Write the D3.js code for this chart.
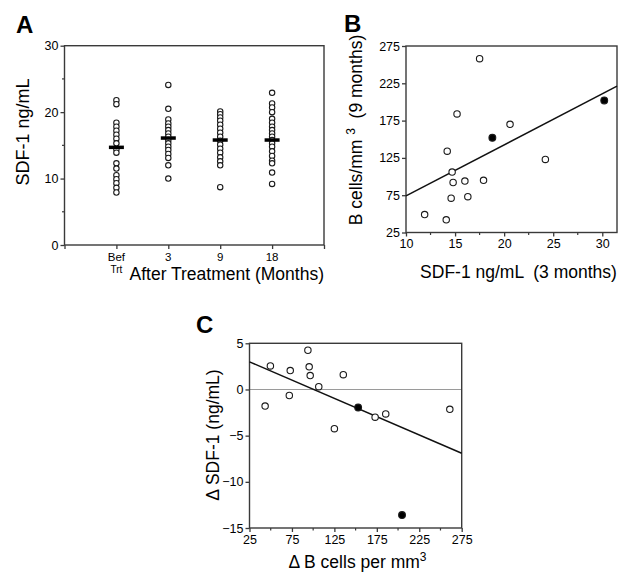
<!DOCTYPE html>
<html>
<head>
<meta charset="utf-8">
<script src="https://cdn.jsdelivr.net/npm/d3@7"></script>
<style>
  body { margin: 0; background: #fff; }
  text { font-family: "Liberation Sans", Arial, Helvetica, sans-serif; fill: #000; }
</style>
</head>
<body>
<div id="fig"></div>
<script>
// ---- panel A: SDF-1 by time point
var catLabels = [['Bef', 'Trt'], ['3'], ['9'], ['18']];
var befTrt = [21.8, 21.2, 18.4, 17.8, 17.2, 16.6, 16.0, 15.3, 14.4, 13.9, 12.3, 11.5, 10.5, 9.9, 9.3, 8.6, 7.9];
var month3 = [24.1, 20.5, 18.9, 18.3, 17.8, 17.3, 16.8, 16.3, 15.8, 15.3, 14.8, 14.3, 13.7, 13.1, 12.0, 10.0];
var month9 = [20.1, 19.7, 19.2, 18.7, 18.1, 17.5, 16.9, 16.3, 15.7, 15.1, 14.5, 13.9, 13.2, 12.6, 12.0, 8.7];
var month18 = [22.9, 21.3, 20.7, 20.0, 19.0, 18.4, 17.8, 17.3, 16.8, 16.3, 15.8, 15.3, 14.8, 14.1, 13.4, 12.7, 12.3, 10.9, 9.2];
var groupMeans = [14.7, 16.1, 15.8, 15.8];
var aYTicks = [0, 10, 20, 30];
var aYMinor = [5, 15, 25];

// ---- panel B: SDF-1 (3 mo) vs B cells (9 mo)
var bOpenX = [17.5, 15.2, 20.6, 14.2, 24.2, 14.7, 14.8, 16.0, 17.9, 14.6, 16.3, 11.9, 14.1];
var bOpenY = [258, 184, 170, 134, 123, 106, 92, 94, 95, 71, 73, 49, 42];
var bFilledX = [18.8, 30.2];
var bFilledY = [152, 202];
var bFit = {intercept: 5.5, slope: 6.85};
var bXTicks = [10, 15, 20, 25, 30];
var bXMinor = [12.5, 17.5, 22.5, 27.5];
var bYTicks = [25, 75, 125, 175, 225, 275];

// ---- panel C: change in B cells vs change in SDF-1
var cOpenX = [43.4, 49.6, 73, 71.9, 93.8, 95.3, 96.5, 106.6, 125, 135.5, 173, 185.5, 261];
var cOpenY = [-1.8, 2.55, 2.05, -0.65, 4.25, 2.45, 1.5, 0.3, -4.25, 1.6, -3.0, -2.65, -2.15];
var cFilledX = [153, 204.7];
var cFilledY = [-1.95, -13.6];
var cFit = {intercept: 3.98, slope: -0.0396};
var cXTicks = [25, 75, 125, 175, 225, 275];
var cXMinor = [50, 100, 150, 200, 250];
var cYTicks = [-15, -10, -5, 0, 5];

var axisColor = '#3a3a3a';

var svg = d3.select('#fig')
  .append('svg')
    .attr('width', 626)
    .attr('height', 575);

function styleAxis(g) {
  g.select('.domain').remove();
  g.selectAll('.tick line').attr('stroke', axisColor).attr('stroke-width', 1.3);
  g.selectAll('.tick text').style('font-size', '12.5px').attr('fill', '#000');
}

function frame(g, x, y) {
  g.append('rect')
    .attr('x', x.range()[0])
    .attr('y', y.range()[1])
    .attr('width', x.range()[1] - x.range()[0])
    .attr('height', y.range()[0] - y.range()[1])
    .attr('fill', 'none')
    .attr('stroke', axisColor)
    .attr('stroke-width', 1.4);
}

function dots(g, xs, ys, x, y, r, filled) {
  g.selectAll(null)
    .data(xs)
    .enter().append('circle')
    .attr('cx', function(d) { return x(d); })
    .attr('cy', function(d, i) { return y(ys[i]); })
    .attr('r', r)
    .attr('fill', filled ? '#000' : '#fff')
    .attr('stroke', '#1a1a1a')
    .attr('stroke-width', 1.1);
}

// ================= A =================
var gA = svg.append('g').attr('id', 'panelA');
var xA = d3.scaleLinear().domain([0, 5]).range([64.5, 324]);
var yA = d3.scaleLinear().domain([0, 30]).range([245, 45.7]);

gA.append('g')
  .attr('transform', 'translate(' + xA(0) + ',0)')
  .call(d3.axisLeft(yA).tickValues(aYTicks).tickSize(4).tickPadding(2).tickSizeOuter(0))
  .call(styleAxis);

gA.selectAll('.yminor')
  .data(aYMinor)
  .enter().append('line')
  .attr('x1', xA(0) - 2.5).attr('x2', xA(0))
  .attr('y1', function(d) { return yA(d); })
  .attr('y2', function(d) { return yA(d); })
  .attr('stroke', axisColor).attr('stroke-width', 1.2);

gA.append('g')
  .attr('transform', 'translate(0,' + yA(0) + ')')
  .call(d3.axisBottom(xA).tickValues([0, 1, 2, 3, 4, 5]).tickSize(4).tickFormat('').tickSizeOuter(0))
  .call(styleAxis);

frame(gA, xA, yA);

// category labels, one text per line so "Bef" / "Trt" stack cleanly
catLabels.forEach(function(lines, i) {
  lines.forEach(function(s, j) {
    gA.append('text')
      .attr('x', xA(i + 1))
      .attr('y', j == 0 ? 261 : 273)
      .attr('text-anchor', 'middle')
      .style('font-size', j == 0 ? '11.5px' : '10px')
      .text(s);
  });
});

[befTrt, month3, month9, month18].forEach(function(vals, i) {
  dots(gA, vals.map(function() { return i + 1; }), vals, xA, yA, 2.7, false);
});

gA.selectAll('.mean')
  .data(groupMeans)
  .enter().append('line')
  .attr('x1', function(d, i) { return xA(i + 1) - 7.5; })
  .attr('x2', function(d, i) { return xA(i + 1) + 7.5; })
  .attr('y1', function(d) { return yA(d); })
  .attr('y2', function(d) { return yA(d); })
  .attr('stroke', '#000')
  .attr('stroke-width', 3.5);

gA.append('text')
  .attr('x', 129.5).attr('y', 280)
  .style('font-size', '17.5px')
  .text('After Treatment (Months)');

gA.append('text')
  .attr('transform', 'translate(29,' + 132 + ') rotate(-90)')
  .attr('text-anchor', 'middle')
  .style('font-size', '18px')
  .text('SDF-1 ng/mL');

gA.append('text')
  .attr('x', 16).attr('y', 33)
  .style('font-size', '24px').style('font-weight', 'bold')
  .text('A');

// ================= B =================
var gB = svg.append('g').attr('id', 'panelB');
var xB = d3.scaleLinear().domain([10, 31.5]).range([406, 617]);
var yB = d3.scaleLinear().domain([25, 275]).range([232.5, 46]);

gB.append('g')
  .attr('transform', 'translate(' + xB.range()[0] + ',0)')
  .call(d3.axisLeft(yB).tickValues(bYTicks).tickSize(4).tickPadding(2).tickSizeOuter(0))
  .call(styleAxis);

gB.append('g')
  .attr('transform', 'translate(0,' + yB(25) + ')')
  .call(d3.axisBottom(xB).tickValues(bXTicks).tickSize(4).tickPadding(3).tickSizeOuter(0))
  .call(styleAxis);

gB.selectAll('.xminor')
  .data(bXMinor)
  .enter().append('line')
  .attr('x1', function(d) { return xB(d); })
  .attr('x2', function(d) { return xB(d); })
  .attr('y1', yB(25)).attr('y2', yB(25) + 2.5)
  .attr('stroke', axisColor).attr('stroke-width', 1.2);

frame(gB, xB, yB);

gB.append('line')
  .attr('x1', xB(10)).attr('x2', xB(31.5))
  .attr('y1', yB(bFit.intercept + bFit.slope * 10))
  .attr('y2', yB(bFit.intercept + bFit.slope * 31.5))
  .attr('stroke', '#111').attr('stroke-width', 1.5);

dots(gB, bOpenX, bOpenY, xB, yB, 3.2, false);
dots(gB, bFilledX, bFilledY, xB, yB, 3.4, true);

gB.append('text')
  .attr('x', 518.5).attr('y', 277.5)
  .attr('text-anchor', 'middle')
  .style('font-size', '17.5px')
  .style('white-space', 'pre')
  .text('SDF-1 ng/mL  (3 months)');

var bYTitle = gB.append('text')
  .attr('transform', 'translate(362,' + 130 + ') rotate(-90)')
  .attr('text-anchor', 'middle')
  .style('font-size', '17.5px')
  .style('white-space', 'pre');
bYTitle.append('tspan').text('B cells/mm ');
bYTitle.append('tspan').attr('dy', -7).style('font-size', '12px').text('3');
bYTitle.append('tspan').attr('dy', 7).text('  (9 months)');

gB.append('text')
  .attr('x', 344).attr('y', 32)
  .style('font-size', '24px').style('font-weight', 'bold')
  .text('B');

// ================= C =================
var gC = svg.append('g').attr('id', 'panelC');
var xC = d3.scaleLinear().domain([25, 275]).range([249.5, 461.7]);
var yC = d3.scaleLinear().domain([-15, 5]).range([528, 343.3]);

gC.append('line')
  .attr('x1', xC(25)).attr('x2', xC(275))
  .attr('y1', yC(0)).attr('y2', yC(0))
  .attr('stroke', '#9a9a9a').attr('stroke-width', 1.2);

gC.append('g')
  .attr('transform', 'translate(' + xC(25) + ',0)')
  .call(d3.axisLeft(yC).tickValues(cYTicks).tickSize(4).tickPadding(2).tickSizeOuter(0))
  .call(styleAxis);

gC.append('g')
  .attr('transform', 'translate(0,' + yC(-15) + ')')
  .call(d3.axisBottom(xC).tickValues(cXTicks).tickSize(4).tickPadding(3).tickSizeOuter(0))
  .call(styleAxis);

gC.selectAll('.xminor')
  .data(cXMinor)
  .enter().append('line')
  .attr('x1', function(d) { return xC(d); })
  .attr('x2', function(d) { return xC(d); })
  .attr('y1', yC(-15)).attr('y2', yC(-15) + 2.5)
  .attr('stroke', axisColor).attr('stroke-width', 1.2);

frame(gC, xC, yC);

gC.append('line')
  .attr('x1', xC(25)).attr('x2', xC(275))
  .attr('y1', yC(cFit.intercept + cFit.slope * 25))
  .attr('y2', yC(cFit.intercept + cFit.slope * 275))
  .attr('stroke', '#111').attr('stroke-width', 1.5);

dots(gC, cOpenX, cOpenY, xC, yC, 3.2, false);
dots(gC, cFilledX, cFilledY, xC, yC, 3.4, true);

var cXTitle = gC.append('text')
  .attr('x', 357.5).attr('y', 568)
  .attr('text-anchor', 'middle')
  .style('font-size', '17.5px');
cXTitle.append('tspan').text('\u0394 B cells per mm');
cXTitle.append('tspan').attr('dy', -7).style('font-size', '12px').text('3');

gC.append('text')
  .attr('transform', 'translate(219,' + 435 + ') rotate(-90)')
  .attr('text-anchor', 'middle')
  .style('font-size', '17.5px')
  .text('\u0394 SDF-1 (ng/mL)');

gC.append('text')
  .attr('x', 196).attr('y', 333)
  .style('font-size', '24px').style('font-weight', 'bold')
  .text('C');
</script>
</body>
</html>
